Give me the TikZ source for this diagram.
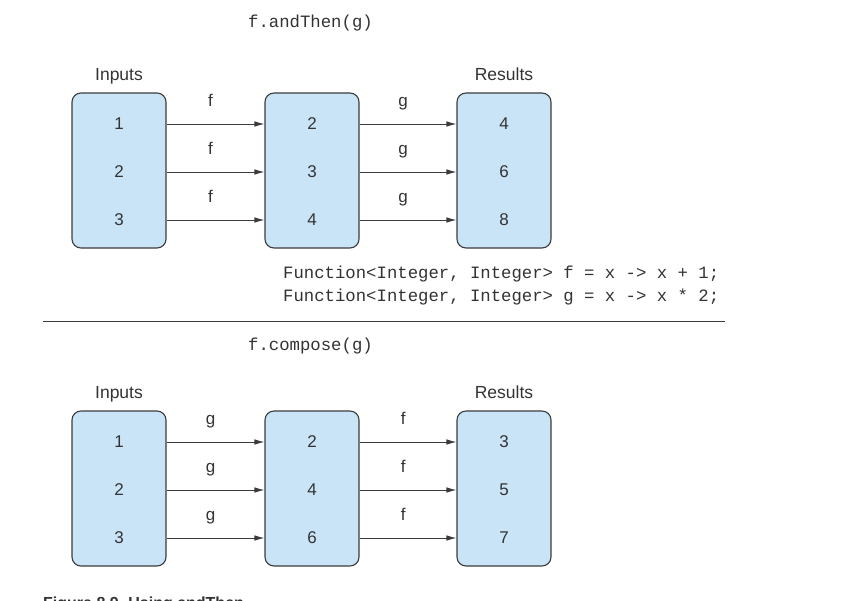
\documentclass[tikz,border=0pt]{standalone}
\usepackage{fontspec}
\setmainfont{Liberation Sans}
\setmonofont{Liberation Mono}
\usetikzlibrary{arrows.meta}
\definecolor{boxfill}{HTML}{C9E4F7}
\definecolor{ink}{HTML}{333333}
\definecolor{edge}{HTML}{3C3C3C}
\tikzset{
  setbox/.style={draw=edge, line width=1.1pt, fill=boxfill, rounded corners=9pt,
    minimum width=94pt, minimum height=155pt, inner sep=0pt},
  val/.style={text=ink, font=\fontsize{17}{20}\selectfont, inner sep=0pt},
  head/.style={text=ink, font=\fontsize{17.5}{20}\selectfont, anchor=base, inner sep=0pt},
  code/.style={text=ink, font=\ttfamily\fontsize{17.3}{20}\selectfont, anchor=base west, inner sep=0pt},
  maparrow/.style={draw=edge, line width=0.9pt, -{Latex[length=10pt,width=5.5pt]}},
  fname/.style={text=ink, font=\fontsize{17}{20}\selectfont, anchor=base, inner sep=0pt, yshift=18pt},
}
\begin{document}
\begin{tikzpicture}[x=1pt,y=-1pt]
\useasboundingbox (0,0) rectangle (850,600);
\fill[white] (0,0) rectangle (850,600);

% ---------- top: f.andThen(g) ----------
\node[code] (t1) at (248,27) {f.andThen(g)};
\node[head] (in1) at (119,80) {Inputs};
\node[head] (res1) at (504,80) {Results};

\node[setbox] (A1) at (119,170.5) {};
\node[setbox] (B1) at (312,170.5) {};
\node[setbox] (C1) at (504,170.5) {};

\node[val] (a11) at (119,124) {1};
\node[val] (a12) at (119,172) {2};
\node[val] (a13) at (119,220) {3};
\node[val] (b11) at (312,124) {2};
\node[val] (b12) at (312,172) {3};
\node[val] (b13) at (312,220) {4};
\node[val] (c11) at (504,124) {4};
\node[val] (c12) at (504,172) {6};
\node[val] (c13) at (504,220) {8};

\foreach \i in {1,2,3}{
  \draw[maparrow] (A1.east |- a1\i) -- node[fname, pos=0.45] (fa\i) {f} (B1.west |- b1\i);
  \draw[maparrow] (B1.east |- b1\i) -- node[fname, pos=0.45] (ga\i) {g} (C1.west |- c1\i);
}

\node[code] (defF) at (283,278) {Function<Integer, Integer> f = x -> x + 1;};
\node[code] (defG) at (283,301) {Function<Integer, Integer> g = x -> x * 2;};

\coordinate (ruleL) at (43,321);
\coordinate (ruleR) at (725,321);
\draw[edge, line width=1pt] (ruleL) -- (ruleR);

% ---------- bottom: f.compose(g) ----------
\node[code] (t2) at (248,350) {f.compose(g)};
\node[head] (in2) at (119,398) {Inputs};
\node[head] (res2) at (504,398) {Results};

\node[setbox] (A2) at (119,488.5) {};
\node[setbox] (B2) at (312,488.5) {};
\node[setbox] (C2) at (504,488.5) {};

\node[val] (a21) at (119,442) {1};
\node[val] (a22) at (119,490) {2};
\node[val] (a23) at (119,538) {3};
\node[val] (b21) at (312,442) {2};
\node[val] (b22) at (312,490) {4};
\node[val] (b23) at (312,538) {6};
\node[val] (c21) at (504,442) {3};
\node[val] (c22) at (504,490) {5};
\node[val] (c23) at (504,538) {7};

\foreach \i in {1,2,3}{
  \draw[maparrow] (A2.east |- a2\i) -- node[fname, pos=0.45] (gb\i) {g} (B2.west |- b2\i);
  \draw[maparrow] (B2.east |- b2\i) -- node[fname, pos=0.45] (fb\i) {f} (C2.west |- c2\i);
}

% ---------- caption, cut by the page edge as in the reference ----------
\begin{scope}
\clip (0,0) rectangle (850,600);
\node[text=ink, font=\bfseries\fontsize{16}{19}\selectfont, anchor=base west, inner sep=0pt] (cap) at (43,608.5) {Figure 8.9\hspace{0.6em}Using andThen};
\end{scope}
\end{tikzpicture}
\end{document}
